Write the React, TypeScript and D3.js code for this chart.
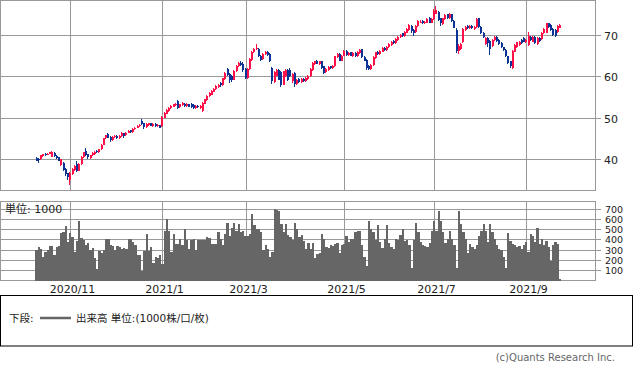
import { useRef, useEffect } from 'react';
import * as d3 from 'd3';

const W = 633;
const H = 373;

// daily candles: [open, high, low, close]
const CANDLES: [number, number, number, number][] = [
  [40.3, 40.5, 39.4, 39.6], [40.0, 40.3, 39.0, 39.8], [39.9, 41.0, 39.8, 40.9], [40.8, 41.3, 40.6, 41.2],
  [41.3, 41.4, 40.8, 41.0], [41.0, 41.5, 40.9, 41.3], [41.2, 41.7, 41.1, 41.6], [40.6, 42.0, 40.5, 41.8],
  [41.5, 41.6, 40.6, 40.7], [40.8, 40.9, 40.1, 40.3], [40.4, 40.5, 39.4, 39.6], [38.6, 40.1, 38.3, 39.9],
  [39.0, 39.2, 37.2, 37.4], [37.6, 37.8, 35.8, 36.4], [36.5, 36.7, 35.0, 35.6], [35.0, 36.8, 33.7, 36.6],
  [36.4, 37.8, 36.2, 37.6], [37.4, 38.6, 37.2, 38.4], [38.9, 39.6, 36.9, 37.1], [37.2, 39.0, 37.0, 38.8],
  [38.8, 40.8, 38.6, 40.6], [40.5, 41.8, 40.3, 41.6], [41.9, 42.6, 40.8, 41.0], [41.1, 41.3, 40.1, 40.4],
  [40.2, 41.0, 40.0, 40.9], [40.9, 41.6, 40.7, 41.4], [41.2, 42.0, 41.0, 41.8], [41.9, 42.1, 41.4, 41.6],
  [41.6, 42.5, 41.4, 42.3], [42.4, 43.6, 42.2, 43.4], [43.5, 45.2, 43.3, 45.0], [45.0, 45.9, 44.8, 45.7],
  [46.0, 46.2, 45.0, 45.2], [45.4, 45.6, 44.0, 44.7], [44.6, 45.5, 44.4, 45.3], [45.3, 45.8, 45.1, 45.6],
  [45.6, 45.8, 44.8, 45.0], [45.0, 45.8, 44.8, 45.6], [45.6, 46.5, 45.4, 46.3], [46.2, 46.4, 45.2, 45.6],
  [45.7, 46.6, 45.5, 46.4], [46.4, 47.0, 46.2, 46.8], [46.9, 47.1, 46.3, 46.5], [46.5, 47.5, 46.3, 47.3],
  [47.3, 47.8, 47.1, 47.6], [47.6, 48.2, 47.4, 48.0], [47.9, 48.5, 47.7, 48.3], [49.3, 49.6, 48.2, 48.4],
  [48.6, 48.8, 47.3, 47.8], [47.8, 48.6, 47.6, 48.4], [48.3, 48.8, 48.1, 48.6], [48.6, 48.7, 47.9, 48.1],
  [48.0, 48.7, 47.8, 48.5], [48.5, 48.6, 47.7, 47.9], [47.9, 48.4, 47.7, 48.2], [48.2, 48.3, 47.4, 47.6],
  [48.0, 50.4, 47.8, 50.2], [50.0, 51.4, 49.8, 51.2], [51.0, 52.0, 50.8, 51.8], [51.6, 52.6, 51.4, 52.4],
  [52.3, 53.0, 52.1, 52.8], [52.7, 53.4, 52.5, 53.2], [53.0, 53.6, 52.8, 53.4], [54.0, 54.2, 52.2, 52.4],
  [52.5, 53.4, 52.3, 53.2], [53.0, 53.7, 52.8, 53.5], [53.4, 53.6, 52.6, 52.8], [52.8, 53.5, 52.6, 53.3],
  [53.3, 53.4, 52.5, 52.7], [53.4, 53.6, 52.3, 52.5], [53.0, 53.2, 52.1, 52.3], [52.4, 53.1, 52.2, 52.9],
  [52.9, 53.1, 52.4, 52.6], [52.4, 53.1, 52.2, 52.9], [51.6, 53.8, 51.4, 53.6], [53.4, 54.6, 53.2, 54.4],
  [54.3, 55.5, 54.1, 55.3], [55.2, 56.1, 55.0, 55.9], [55.6, 56.7, 55.4, 56.5], [56.3, 57.2, 56.1, 57.0],
  [56.9, 57.8, 56.7, 57.6], [57.4, 58.2, 57.2, 58.0], [58.4, 58.7, 57.5, 57.8], [57.8, 59.7, 57.6, 59.5],
  [59.3, 61.0, 59.1, 60.8], [61.8, 62.0, 60.2, 60.4], [60.5, 60.7, 58.3, 59.2], [60.0, 60.3, 58.7, 59.0],
  [59.2, 61.6, 59.0, 61.4], [61.2, 62.8, 61.0, 62.6], [62.4, 63.4, 62.2, 63.2], [63.3, 63.6, 62.5, 62.7],
  [63.0, 63.5, 61.1, 61.5], [61.8, 62.0, 59.4, 59.6], [59.6, 62.0, 59.4, 61.8], [61.8, 64.4, 61.6, 64.2],
  [64.0, 66.2, 63.8, 66.0], [65.8, 66.8, 65.6, 66.6], [66.5, 67.9, 66.3, 66.9], [66.6, 66.8, 64.6, 64.8],
  [65.0, 65.2, 63.6, 64.0], [64.2, 65.7, 64.0, 65.5], [65.3, 66.1, 65.1, 65.9], [65.9, 66.2, 65.0, 65.2],
  [65.4, 65.6, 63.4, 63.6], [62.0, 62.2, 58.2, 58.8], [58.6, 61.2, 58.4, 61.0], [60.2, 61.7, 60.0, 61.5],
  [61.6, 61.8, 59.0, 59.2], [61.0, 61.2, 57.4, 57.8], [58.0, 61.4, 57.8, 61.2], [60.0, 61.7, 59.8, 61.5],
  [61.5, 61.7, 58.8, 59.0], [61.5, 61.9, 59.8, 60.0], [58.8, 60.8, 58.4, 60.6], [60.8, 61.0, 57.4, 58.2],
  [58.2, 59.4, 58.0, 59.2], [59.4, 59.6, 58.4, 58.6], [58.6, 59.6, 58.4, 59.4], [59.4, 59.6, 58.7, 58.9],
  [58.8, 59.8, 58.6, 59.6], [59.4, 60.4, 59.2, 60.2], [60.0, 62.0, 59.8, 61.8], [61.6, 63.4, 61.4, 63.2],
  [63.0, 63.8, 62.8, 63.6], [63.7, 63.9, 62.9, 63.1], [63.0, 63.8, 62.8, 63.6], [63.6, 63.8, 61.8, 62.0],
  [62.4, 62.6, 60.6, 60.8], [61.0, 61.9, 60.8, 61.7], [61.6, 62.5, 61.4, 62.3], [62.4, 62.6, 61.7, 61.9],
  [61.9, 62.7, 61.7, 62.5], [62.5, 65.0, 62.3, 64.8], [64.6, 65.7, 64.4, 65.5], [65.4, 65.6, 63.6, 63.8],
  [63.8, 65.2, 63.6, 65.0], [65.0, 66.4, 64.8, 66.2], [66.2, 66.4, 65.0, 65.2], [65.1, 65.9, 64.9, 65.7],
  [65.8, 66.0, 64.8, 65.0], [64.9, 65.8, 64.7, 65.6], [65.6, 65.8, 64.7, 64.9], [64.8, 66.2, 64.6, 66.0],
  [65.6, 66.6, 65.4, 66.4], [66.5, 66.7, 64.4, 64.6], [64.6, 64.8, 63.6, 63.8], [64.0, 64.2, 61.5, 62.0],
  [62.6, 62.8, 61.6, 61.8], [61.8, 63.0, 61.6, 62.8], [62.8, 64.8, 62.6, 64.6], [64.4, 66.0, 64.2, 65.8],
  [66.0, 66.2, 65.1, 65.3], [65.3, 66.4, 65.1, 66.2], [66.0, 67.0, 65.8, 66.8], [66.9, 67.1, 66.1, 66.3],
  [66.3, 67.4, 66.1, 67.2], [67.0, 68.0, 66.8, 67.8], [67.6, 68.6, 67.4, 68.4], [68.6, 68.8, 67.8, 68.0],
  [68.0, 69.2, 67.8, 69.0], [68.8, 69.8, 68.6, 69.6], [69.4, 70.2, 69.2, 70.0], [70.4, 70.6, 69.6, 69.8],
  [69.8, 71.0, 69.6, 70.8], [70.6, 71.6, 70.4, 71.4], [71.2, 72.6, 71.0, 72.4], [72.2, 72.4, 70.4, 71.0],
  [71.2, 71.4, 69.8, 70.4], [70.8, 72.4, 70.6, 72.2], [72.2, 73.6, 72.0, 73.4], [73.0, 73.6, 72.8, 73.2],
  [73.4, 73.6, 72.6, 72.8], [72.8, 73.4, 72.6, 73.2], [73.0, 74.2, 72.8, 73.8], [74.0, 74.4, 72.8, 73.0],
  [73.0, 74.0, 72.8, 73.8], [73.8, 76.4, 73.6, 75.8], [75.2, 77.0, 75.0, 76.0], [75.6, 75.8, 73.4, 73.6],
  [74.0, 74.2, 72.2, 72.8], [72.6, 74.2, 72.4, 74.0], [73.8, 75.0, 73.6, 74.8], [75.0, 75.2, 73.8, 74.0],
  [74.0, 75.4, 73.8, 75.0], [75.0, 75.2, 73.2, 73.4], [73.4, 73.6, 71.6, 71.8], [71.2, 71.6, 65.6, 66.2],
  [66.2, 67.8, 65.4, 67.4], [66.6, 68.0, 66.4, 67.8], [68.2, 71.6, 68.0, 71.4], [71.2, 72.2, 71.0, 72.0],
  [72.2, 72.4, 71.4, 71.6], [71.6, 72.4, 71.4, 72.2], [72.2, 72.4, 71.4, 71.6], [71.4, 72.2, 71.2, 72.0],
  [72.0, 74.2, 71.8, 73.8], [74.0, 74.2, 71.8, 72.0], [72.0, 72.2, 70.2, 70.4], [70.6, 70.8, 69.2, 69.4],
  [67.8, 69.4, 67.6, 69.2], [69.2, 69.4, 67.0, 68.0], [68.6, 68.8, 65.2, 66.6], [67.4, 69.0, 67.2, 68.8],
  [68.8, 69.8, 68.6, 69.6], [69.6, 69.8, 68.4, 68.6], [68.8, 69.0, 67.6, 67.8], [68.0, 68.2, 66.8, 67.0],
  [67.0, 67.2, 66.2, 66.4], [66.4, 66.6, 64.6, 64.8], [64.8, 65.0, 63.0, 63.2], [63.6, 63.8, 61.9, 62.6],
  [62.0, 66.4, 61.8, 66.2], [66.0, 67.8, 65.8, 67.6], [67.0, 68.4, 66.8, 68.2], [67.6, 68.6, 67.4, 68.4],
  [68.8, 69.0, 67.8, 68.0], [69.2, 69.4, 68.2, 68.4], [68.2, 69.0, 68.0, 68.8], [67.6, 70.8, 67.4, 69.8],
  [69.6, 69.8, 68.6, 68.8], [68.4, 69.8, 68.2, 69.6], [69.6, 69.8, 67.8, 68.0], [67.8, 69.4, 67.6, 69.2],
  [69.2, 69.4, 68.4, 68.6], [69.0, 70.8, 68.8, 70.6], [70.4, 71.6, 70.2, 71.4], [70.6, 73.0, 70.4, 72.8],
  [72.8, 73.0, 71.8, 72.0], [72.4, 72.6, 71.0, 71.2], [71.4, 71.6, 69.8, 70.0], [71.2, 71.4, 69.5, 69.8],
  [70.8, 72.4, 70.6, 72.2], [71.8, 72.6, 71.6, 72.4],
];

// daily volume, unit 1000
const VOLUME: number[] = [
  295, 327, 311, 232, 280, 295, 336, 336, 248, 327, 336, 462, 468, 530, 374, 462, 420, 280, 380, 578,
  411, 396, 342, 364, 295, 317, 217, 107, 286, 270, 301, 399, 399, 342, 336, 295, 336, 327, 311, 317,
  311, 399, 399, 374, 342, 248, 248, 97, 286, 452, 286, 327, 170, 232, 223, 248, 160, 484, 600, 484,
  280, 452, 358, 358, 399, 342, 500, 389, 311, 389, 405, 295, 389, 389, 389, 389, 420, 411, 358, 358,
  358, 468, 405, 342, 452, 562, 436, 515, 562, 484, 546, 474, 477, 436, 436, 452, 650, 537, 505, 500,
  468, 295, 348, 311, 232, 273, 694, 688, 672, 546, 468, 546, 443, 420, 389, 562, 505, 420, 443, 380,
  311, 367, 311, 367, 217, 254, 264, 452, 405, 327, 317, 348, 336, 358, 364, 264, 348, 358, 430, 374,
  399, 405, 468, 484, 484, 342, 232, 138, 578, 500, 468, 389, 537, 374, 317, 405, 537, 367, 327, 311,
  405, 389, 443, 505, 380, 389, 342, 122, 389, 556, 468, 374, 342, 336, 327, 367, 484, 578, 484, 672,
  578, 468, 367, 405, 484, 400, 342, 122, 672, 546, 468, 405, 264, 358, 327, 311, 342, 430, 484, 546,
  484, 374, 546, 468, 405, 342, 311, 295, 232, 122, 462, 380, 358, 342, 327, 336, 311, 342, 374, 280,
  452, 436, 374, 515, 358, 405, 342, 380, 327, 185, 348, 374, 358, 13,
];

const START_DATE = '2020-10-12';
const HOLIDAYS = [
  '2020-11-03', '2020-11-23', '2020-12-31', '2021-01-01', '2021-01-11', '2021-02-11',
  '2021-02-23', '2021-04-29', '2021-05-03', '2021-05-04', '2021-05-05', '2021-07-22',
  '2021-07-23', '2021-08-09', '2021-09-20', '2021-09-23',
];
const MONTH_LABELS = ['2020/11', '2021/1', '2021/3', '2021/5', '2021/7', '2021/9'];
const PRICE_TICKS = [40, 50, 60, 70];
const VOLUME_TICKS = [100, 200, 300, 400, 500, 600, 700];

const UP = '#ff1048';
const DOWN = '#0b3396';
const GRID = '#999999';
const BAR = '#666666';
const FONT = "'DejaVu Sans', 'Noto Sans CJK JP', sans-serif";

const PLOT_RIGHT = 595.5;
const PRICE_BOX = { top: 0.5, bottom: 190.5 };
const VOL_BOX = { top: 201.5, bottom: 280.5 };

function tradingDays(n: number): Date[] {
  const out: Date[] = [];
  const skip = new Set(HOLIDAYS);
  const d = new Date(START_DATE + 'T00:00:00Z');
  while (out.length < n) {
    const dow = d.getUTCDay();
    const key = d.toISOString().slice(0, 10);
    if (dow !== 0 && dow !== 6 && !skip.has(key)) out.push(new Date(d));
    d.setUTCDate(d.getUTCDate() + 1);
  }
  return out;
}

export default function App() {
  const svgRef = useRef<SVGSVGElement>(null);

  useEffect(() => {
    if (!svgRef.current) return;
    const svg = d3.select(svgRef.current);
    svg.selectAll('*').remove();

    const n = CANDLES.length;
    const dates = tradingDays(n);
    const monthIdx = MONTH_LABELS.map((lab) => {
      const [yy, mm] = lab.split('/').map(Number);
      return dates.findIndex((d) => d.getUTCFullYear() === yy && d.getUTCMonth() + 1 === mm);
    });

    const x = d3.scaleLinear().domain([0, n - 1]).range([36.6, 560]);
    const step = x(1) - x(0);
    const y = d3.scaleLinear().domain([40, 70]).range([159, 35]);
    const yv = d3.scaleLinear().domain([0, 700]).range([280.5, 208.5]);

    // frames
    svg.append('rect')
      .attr('x', 0.5).attr('y', PRICE_BOX.top)
      .attr('width', PLOT_RIGHT - 0.5).attr('height', PRICE_BOX.bottom - PRICE_BOX.top)
      .attr('fill', 'none').attr('stroke', GRID);
    svg.append('rect')
      .attr('x', 0.5).attr('y', VOL_BOX.top)
      .attr('width', PLOT_RIGHT - 0.5).attr('height', VOL_BOX.bottom - VOL_BOX.top)
      .attr('fill', 'none').attr('stroke', GRID);

    // price grid + labels
    PRICE_TICKS.forEach((v) => {
      const yy = Math.round(y(v)) + 0.5;
      svg.append('line')
        .attr('x1', 0).attr('x2', 601).attr('y1', yy).attr('y2', yy)
        .attr('stroke', GRID);
      svg.append('text')
        .attr('x', 604).attr('y', yy + 4)
        .attr('font-family', FONT).attr('font-size', '11px').attr('fill', '#222')
        .text(v);
    });

    // volume grid + labels (smaller font, they sit close together)
    VOLUME_TICKS.forEach((v) => {
      const yy = Math.round(yv(v)) + 0.5;
      svg.append('line')
        .attr('x1', 0).attr('x2', 601).attr('y1', yy).attr('y2', yy)
        .attr('stroke', GRID);
      svg.append('text')
        .attr('x', 605).attr('y', yy + 3.5)
        .attr('font-family', FONT).attr('font-size', '9.5px').attr('fill', '#222')
        .text(v);
    });

    // month grid + labels
    monthIdx.forEach((idx, k) => {
      const xx = Math.round(x(idx)) + 0.5;
      svg.append('line')
        .attr('x1', xx).attr('x2', xx).attr('y1', PRICE_BOX.top).attr('y2', PRICE_BOX.bottom)
        .attr('stroke', GRID);
      svg.append('line')
        .attr('x1', xx).attr('x2', xx).attr('y1', VOL_BOX.top).attr('y2', VOL_BOX.bottom)
        .attr('stroke', GRID);
      svg.append('text')
        .attr('x', xx + 2).attr('y', 293)
        .attr('text-anchor', 'middle')
        .attr('font-family', FONT).attr('font-size', '11px').attr('fill', '#222')
        .text(MONTH_LABELS[k]);
    });

    // volume bars
    svg.append('g')
      .attr('shape-rendering', 'crispEdges')
      .selectAll('rect')
      .data(VOLUME)
      .join('rect')
      .attr('x', (_, i) => x(i) - step / 2)
      .attr('width', step)
      .attr('y', (v) => yv(v))
      .attr('height', (v) => VOL_BOX.bottom - yv(v))
      .attr('fill', BAR);

    // candles
    const cg = svg.append('g').attr('shape-rendering', 'crispEdges');
    CANDLES.forEach(([o, h, l, c], i) => {
      const col = c >= o ? UP : DOWN;
      const cx = Math.round(x(i));
      cg.append('line')
        .attr('x1', cx - 0.5).attr('x2', cx - 0.5)
        .attr('y1', y(h)).attr('y2', y(l))
        .attr('stroke', col).attr('stroke-width', 1);
      const top = y(Math.max(o, c));
      const bot = y(Math.min(o, c));
      cg.append('rect')
        .attr('x', cx - 1).attr('width', 2)
        .attr('y', top).attr('height', Math.max(bot - top, 1))
        .attr('fill', col);
    });

    // unit label
    svg.append('text')
      .attr('x', 5).attr('y', 213)
      .attr('font-family', FONT).attr('font-size', '11px').attr('fill', '#222')
      .text('単位: 1000');

    // legend box
    svg.append('rect')
      .attr('x', 0.5).attr('y', 295.5).attr('width', 632).attr('height', 50.5)
      .attr('fill', 'none').attr('stroke', '#000');
    svg.append('text')
      .attr('x', 9).attr('y', 322)
      .attr('font-family', FONT).attr('font-size', '10.5px').attr('fill', '#222')
      .text('下段:');
    svg.append('line')
      .attr('x1', 40).attr('x2', 71).attr('y1', 318).attr('y2', 318)
      .attr('stroke', BAR).attr('stroke-width', 2.5);
    svg.append('text')
      .attr('x', 76).attr('y', 322)
      .attr('font-family', FONT).attr('font-size', '10.5px').attr('fill', '#222')
      .text('出来高 単位:(1000株/口/枚)');

    svg.append('text')
      .attr('x', 615).attr('y', 361)
      .attr('text-anchor', 'end')
      .attr('font-family', FONT).attr('font-size', '10px').attr('fill', '#666')
      .text('(c)Quants Research Inc.');
  }, []);

  return (
    <svg
      ref={svgRef}
      width={W}
      height={H}
      style={{ position: 'absolute', left: 0, top: 0, background: '#fff' }}
    />
  );
}
